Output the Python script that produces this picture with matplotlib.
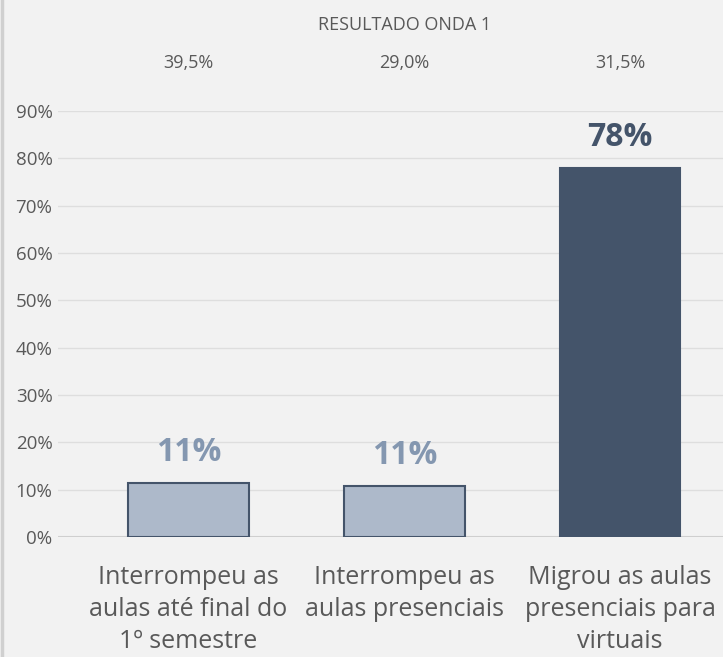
import matplotlib
matplotlib.use("Agg")
import matplotlib.pyplot as plt
from matplotlib.lines import Line2D

plt.rcParams['font.family'] = ['Open Sans', 'DejaVu Sans']

# data
categorias = ["Interrompeu as\naulas até final do\n1º semestre",
              "Interrompeu as\naulas presenciais",
              "Migrou as aulas\npresenciais para\nvirtuais"]
valores = [11.5, 10.8, 78.0]
rotulos = ["11%", "11%", "78%"]
onda1 = ["39,5%", "29,0%", "31,5%"]
yticks = [0, 10, 20, 30, 40, 50, 60, 70, 80, 90]

bg = '#f2f2f2'
txt = '#595959'
escuro = '#44546a'
claro = '#adb9ca'
cor_rot = ['#8497b0', '#8497b0', escuro]
cores = [claro, claro, escuro]

fig = plt.figure(figsize=(7.23, 6.57), dpi=100, facecolor=bg)
ax = fig.add_axes([58/723, 120/657, 665/723, 426/657])
ax.set_facecolor(bg)

x = list(range(len(valores)))
ax.bar(x, valores, width=0.56, color=cores, edgecolor=escuro, linewidth=1.5, zorder=3)

for xi, v, r, c in zip(x, valores, rotulos, cor_rot):
    ax.text(xi, v + 2.9, r, ha='center', va='bottom', fontsize=23,
            fontweight='bold', color=c, zorder=4)

for xi, t in zip(x, onda1):
    ax.text(xi, 100.2, t, ha='center', va='center', fontsize=13, color=txt, clip_on=False)
ax.text(1.0, 108.2, "RESULTADO ONDA 1", ha='center', va='center', fontsize=13,
        color=txt, clip_on=False)

ax.set_xlim(-0.605, 2.477)
ax.set_ylim(0, 90)
ax.set_yticks(yticks)
ax.set_yticklabels([f"{t}%" for t in yticks])
ax.set_xticks(x)
ax.set_xticklabels(categorias, fontsize=18, color=txt, linespacing=1.36)
ax.tick_params(axis='y', labelsize=13.5, colors=txt, length=0, pad=4)
ax.tick_params(axis='x', length=0, pad=20.5)
for lab in ax.get_yticklabels():
    lab.set_color(txt)

ax.grid(axis='y', color='#dedede', linewidth=1.0, zorder=0)
for s in ax.spines.values():
    s.set_visible(False)
ax.axhline(0, color='#cfcfcf', linewidth=1.5, zorder=2)

# left border of the frame
fig.add_artist(Line2D([0.003, 0.003], [0, 1], transform=fig.transFigure,
                      color='#d0d0d0', linewidth=2.5))

fig.savefig("out.png", dpi=100, facecolor=bg)
